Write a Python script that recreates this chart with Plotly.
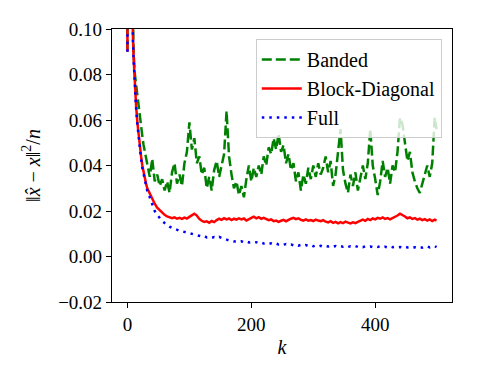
"""Reconstruction error vs iteration for three covariance structures."""
import plotly.graph_objects as go

# ── Data ──────────────────────────────────────────────────────────────────────
K = list(range(0, 11)) + list(range(12, 31, 2)) + list(range(32, 497, 4)) + [499]

BANDED = [
    0.091, 0.80, 0.45, 0.30, 0.22, 0.175, 0.146, 0.126, 0.111, 0.099, 0.089,
    0.080, 0.075, 0.070, 0.066, 0.061, 0.057, 0.053, 0.049, 0.046, 0.043,
    0.040, 0.035, 0.043, 0.033, 0.036, 0.031, 0.034, 0.029, 0.033, 0.028,
    0.037, 0.041, 0.032, 0.036, 0.031, 0.041, 0.046, 0.059, 0.047, 0.052,
    0.041, 0.044, 0.036, 0.039, 0.030, 0.035, 0.029, 0.038, 0.042, 0.035,
    0.040, 0.045, 0.064, 0.044, 0.036, 0.030, 0.033, 0.027, 0.031, 0.026,
    0.034, 0.040, 0.033, 0.039, 0.035, 0.040, 0.036, 0.044, 0.040, 0.048,
    0.045, 0.052, 0.047, 0.054, 0.046, 0.049, 0.041, 0.045, 0.038, 0.041,
    0.033, 0.037, 0.029, 0.036, 0.032, 0.039, 0.034, 0.040, 0.035, 0.041,
    0.036, 0.039, 0.044, 0.037, 0.042, 0.031, 0.036, 0.045, 0.056, 0.038,
    0.032, 0.028, 0.036, 0.031, 0.037, 0.029, 0.035, 0.040, 0.034, 0.041,
    0.056, 0.040, 0.034, 0.027, 0.033, 0.042, 0.035, 0.039, 0.032, 0.040,
    0.037, 0.046, 0.061, 0.058, 0.050, 0.042, 0.046, 0.037, 0.033, 0.030,
    0.028, 0.032, 0.036, 0.040, 0.035, 0.041, 0.061,
    0.056,
]

BLOCK_DIAGONAL = [
    0.090, 0.78, 0.44, 0.29, 0.215, 0.170, 0.140, 0.120, 0.106, 0.095, 0.087,
    0.075, 0.066, 0.059, 0.053, 0.048, 0.044, 0.040, 0.037, 0.0345, 0.032,
    0.0300, 0.0275, 0.0253, 0.0232, 0.0215, 0.0204, 0.0193, 0.0183, 0.0176, 0.0172,
    0.0168, 0.0172, 0.0166, 0.0170, 0.0165, 0.0171, 0.0167, 0.0174, 0.0182, 0.0188,
    0.0180, 0.0165, 0.0157, 0.0152, 0.0155, 0.0148, 0.0156, 0.0151, 0.0160, 0.0166,
    0.0161, 0.0168, 0.0163, 0.0167, 0.0160, 0.0166, 0.0162, 0.0168, 0.0163, 0.0167,
    0.0158, 0.0165, 0.0170, 0.0175, 0.0168, 0.0173, 0.0166, 0.0170, 0.0164, 0.0160,
    0.0163, 0.0155, 0.0158, 0.0152, 0.0157, 0.0161, 0.0155, 0.0162, 0.0166, 0.0170,
    0.0164, 0.0168, 0.0161, 0.0158, 0.0163, 0.0157, 0.0160, 0.0156, 0.0162, 0.0158,
    0.0155, 0.0160, 0.0153, 0.0150, 0.0155, 0.0148, 0.0152, 0.0146, 0.0151, 0.0147,
    0.0153, 0.0149, 0.0145, 0.0150, 0.0147, 0.0152, 0.0158, 0.0162, 0.0157, 0.0165,
    0.0160, 0.0167, 0.0163, 0.0170, 0.0166, 0.0172, 0.0165, 0.0169, 0.0163, 0.0168,
    0.0174, 0.0180, 0.0188, 0.0183, 0.0176, 0.0168, 0.0172, 0.0165, 0.0169, 0.0162,
    0.0166, 0.0160, 0.0164, 0.0158, 0.0163, 0.0156, 0.0162,
    0.0158,
]

FULL = [
    0.090, 0.78, 0.44, 0.29, 0.214, 0.169, 0.139, 0.119, 0.105, 0.094, 0.086,
    0.074, 0.065, 0.058, 0.052, 0.047, 0.043, 0.039, 0.036, 0.0335, 0.031,
    0.0288, 0.0260, 0.0225, 0.0200, 0.0183, 0.0168, 0.0156, 0.0147, 0.0138, 0.0131,
    0.0126, 0.0121, 0.0118, 0.0113, 0.0111, 0.0108, 0.0104, 0.0102, 0.0100, 0.0096,
    0.0095, 0.0090, 0.0088, 0.0090, 0.0084, 0.0086, 0.0082, 0.0085, 0.0081, 0.0086,
    0.0080, 0.0077, 0.0074, 0.0070, 0.0068, 0.0066, 0.0068, 0.0065, 0.0067, 0.0063,
    0.0066, 0.0062, 0.0064, 0.0061, 0.0063, 0.0059, 0.0061, 0.0057, 0.0059, 0.0055,
    0.0058, 0.0054, 0.0057, 0.0053, 0.0056, 0.0052, 0.0055, 0.0051, 0.0053, 0.0049,
    0.0052, 0.0048, 0.0051, 0.0047, 0.0050, 0.0046, 0.0049, 0.0045, 0.0048, 0.0044,
    0.0047, 0.0043, 0.0046, 0.0044, 0.0047, 0.0043, 0.0046, 0.0042, 0.0045, 0.0043,
    0.0046, 0.0042, 0.0045, 0.0043, 0.0046, 0.0042, 0.0044, 0.0041, 0.0045, 0.0042,
    0.0044, 0.0041, 0.0044, 0.0042, 0.0045, 0.0041, 0.0043, 0.0040, 0.0044, 0.0041,
    0.0043, 0.0040, 0.0042, 0.0039, 0.0043, 0.0040, 0.0042, 0.0039, 0.0041, 0.0038,
    0.0041, 0.0039, 0.0042, 0.0045, 0.0040, 0.0043, 0.0046,
    0.0041,
]

X_TICKS = [0, 200, 400]
Y_TICKS = [-0.02, 0.00, 0.02, 0.04, 0.06, 0.08, 0.10]
Y_TICK_TEXT = ["\u22120.02", "0.00", "0.02", "0.04", "0.06", "0.08", "0.10"]

assert len(BANDED) == len(BLOCK_DIAGONAL) == len(FULL) == len(K)

FONT = "'Liberation Serif', 'DejaVu Serif', serif"

fig = go.Figure()

# ── Series: green dashed, red solid, blue dotted (blue on top) ──────────────
fig.add_trace(go.Scatter(
    x=K, y=BANDED, mode="lines", name="Banded",
    line=dict(color="green", width=2.5, dash="10px,4px"),
))
fig.add_trace(go.Scatter(
    x=K, y=BLOCK_DIAGONAL, mode="lines", name="Block-Diagonal",
    line=dict(color="red", width=2.5),
))
fig.add_trace(go.Scatter(
    x=K, y=FULL, mode="lines", name="Full",
    line=dict(color="blue", width=2.5, dash="2.5px,5px"),
))

axis_common = dict(
    showline=True, mirror=True, linecolor="black", linewidth=1.2,
    ticks="outside", ticklen=5, tickwidth=1.2, tickcolor="black",
    showgrid=False, zeroline=False,
    tickfont=dict(family=FONT, size=19, color="black"),
)

# the page body keeps an 8px browser margin, so the figure is 8px smaller
# and the left/top margins are 8px shorter than the reference's
fig.update_layout(
    width=470, height=374,
    margin=dict(l=104, r=26, t=21, b=80),
    plot_bgcolor="white", paper_bgcolor="white",
    font=dict(family=FONT, size=19, color="black"),
    xaxis=dict(
        range=[-24.95, 523.95], tickvals=X_TICKS,
        title=dict(text="<i>k</i>", font=dict(family=FONT, size=20), standoff=6),
        **axis_common,
    ),
    yaxis=dict(
        range=[-0.02, 0.10], tickvals=Y_TICKS, ticktext=Y_TICK_TEXT,
        title=dict(
            text="\u2016<i>x\u0302</i> \u2212 <i>x</i>\u2016<sup>2</sup>/<i>n</i>",
            font=dict(family=FONT, size=20), standoff=12,
        ),
        **axis_common,
    ),
    legend=dict(
        x=0.97, y=0.963, xanchor="right", yanchor="top",
        bgcolor="rgba(255,255,255,0.8)", bordercolor="#cccccc", borderwidth=1,
        font=dict(family=FONT, size=20, color="black"),
        itemwidth=40, tracegroupgap=0,
    ),
    showlegend=True,
)

fig.write_html("out.html")
